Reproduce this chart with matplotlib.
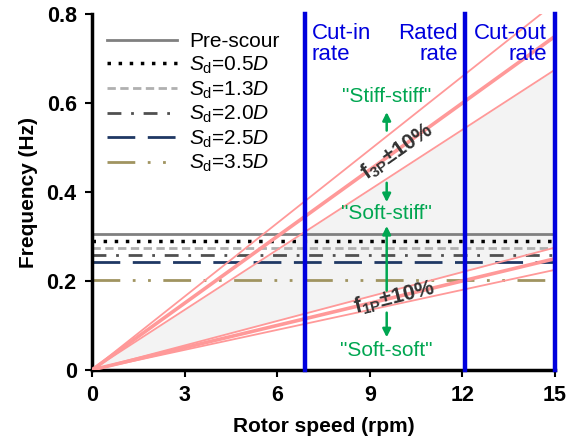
import numpy as np
import matplotlib
matplotlib.use("Agg")
import matplotlib.pyplot as plt

plt.rcParams['font.family'] = ['Liberation Sans', 'DejaVu Sans']
plt.rcParams['mathtext.fontset'] = 'custom'
plt.rcParams['mathtext.rm'] = 'Liberation Sans'
plt.rcParams['mathtext.it'] = 'Liberation Sans:italic'
plt.rcParams['mathtext.bf'] = 'Liberation Sans:bold'

# Data
rotor_speed = [0, 15]
labels = ['Pre-scour', r'$S_{\mathrm{d}}$=0.5$D$', r'$S_{\mathrm{d}}$=1.3$D$',
          r'$S_{\mathrm{d}}$=2.0$D$', r'$S_{\mathrm{d}}$=2.5$D$', r'$S_{\mathrm{d}}$=3.5$D$']
nat_freq = [0.305, 0.291, 0.274, 0.258, 0.243, 0.202]
cut_in, rated, cut_out = 6.9, 12.1, 15.0
band = [0.9, 1.0, 1.1]
xticks = [0, 3, 6, 9, 12, 15]
yticks = [0, 0.2, 0.4, 0.6, 0.8]

styles = [
    dict(color='#808080', ls='-', lw=2.0),
    dict(color='#000000', ls=(0, (1, 2.2)), lw=2.5),
    dict(color='#b0b0b0', ls=(0, (3, 1.6)), lw=2.0),
    dict(color='#505050', ls=(0, (5, 3.5, 1, 3.5)), lw=2.0),
    dict(color='#1f3864', ls=(0, (10, 4.5)), lw=2.0),
    dict(color='#a09460', ls=(0, (10, 4.5, 1, 4.5, 1, 4.5)), lw=2.0),
]

fig = plt.figure(figsize=(5.75, 4.43), dpi=100)
ax = fig.add_axes([0.16, 0.165, 0.805, 0.803])

x = np.array(rotor_speed, dtype=float)
xs = np.linspace(0, 15, 200)
f1 = xs / 60.0
f3 = 3 * xs / 60.0
ax.fill_between(xs, 1.1 * f1, 0.9 * f3, color='#f3f3f3', lw=0, zorder=0)

for lab, f, st in zip(labels, nat_freq, styles):
    ax.plot(x, [f, f], label=lab, zorder=2, **st)

pink = '#ff9999'
for b in band:
    lw = 2.6 if b == 1.0 else 1.3
    ax.plot(x, [0, b * x[1] / 60.0], color=pink, lw=lw, zorder=3)
    ax.plot(x, [0, 3 * b * x[1] / 60.0], color=pink, lw=lw, zorder=3)

blue = '#0000dd'
for v in [cut_in, rated, cut_out]:
    ax.axvline(v, color=blue, lw=3.2, zorder=4, clip_on=False)

ax.text(cut_in + 0.22, 0.781, 'Cut-in\nrate', color=blue, fontsize=16, ha='left', va='top', linespacing=1.0)
ax.text(rated - 0.25, 0.781, 'Rated\nrate', color=blue, fontsize=16, ha='right', va='top', linespacing=1.0)
ax.text(cut_out - 0.25, 0.781, 'Cut-out\nrate', color=blue, fontsize=16, ha='right', va='top', linespacing=1.0)

green = '#00a651'
xa = 9.55
ax.text(xa, 0.615, '"Stiff-stiff"', color=green, fontsize=15, ha='center', va='center')
ax.text(xa, 0.352, '"Soft-stiff"', color=green, fontsize=15, ha='center', va='center')
ax.text(xa, 0.043, '"Soft-soft"', color=green, fontsize=15, ha='center', va='center')
akw = dict(arrowstyle='-|>', color=green, lw=1.8, mutation_scale=12)
ax.annotate('', xy=(xa, 0.586), xytext=(xa, 0.532), arrowprops=akw)
ax.annotate('', xy=(xa, 0.371), xytext=(xa, 0.427), arrowprops=akw)
ax.annotate('', xy=(xa, 0.330), xytext=(xa, 0.172), arrowprops=akw)
ax.annotate('', xy=(xa, 0.067), xytext=(xa, 0.135), arrowprops=akw)

ax.text(9.9, 0.49, r'$\mathbf{f}_{\mathbf{3P}}$$\mathbf{\pm}$$\mathbf{10\%}$', color='#333333',
        fontsize=15.5, ha='center', va='center', rotation=35, zorder=5)
ax.text(9.8, 0.162, r'$\mathbf{f}_{\mathbf{1P}}$$\mathbf{\pm}$$\mathbf{10\%}$', color='#333333',
        fontsize=15.5, ha='center', va='center', rotation=14, zorder=5)

ax.set_xlim(0, 15)
ax.set_ylim(0, 0.8)
ax.set_xticks(xticks)
ax.set_xticklabels([str(t) for t in xticks])
ax.set_yticks(yticks)
ax.set_yticklabels(['0', '0.2', '0.4', '0.6', '0.8'])
for lab in ax.get_xticklabels() + ax.get_yticklabels():
    lab.set_fontweight('bold')
ax.tick_params(axis='both', labelsize=15.5, direction='out', length=5, width=1.5, pad=6)
ax.spines['top'].set_visible(False)
ax.spines['right'].set_visible(False)
ax.spines['left'].set_linewidth(2.5)
ax.spines['bottom'].set_linewidth(2.5)
ax.set_xlabel('Rotor speed (rpm)', fontsize=15, fontweight='bold', labelpad=8)
ax.set_ylabel('Frequency (Hz)', fontsize=15, fontweight='bold', labelpad=6)

leg = ax.legend(loc='upper left', bbox_to_anchor=(0.0, 0.99), frameon=False, fontsize=15,
                handlelength=3.4, labelspacing=0.16, handletextpad=0.55, borderaxespad=0.3)

fig.savefig('out.png', dpi=100)
